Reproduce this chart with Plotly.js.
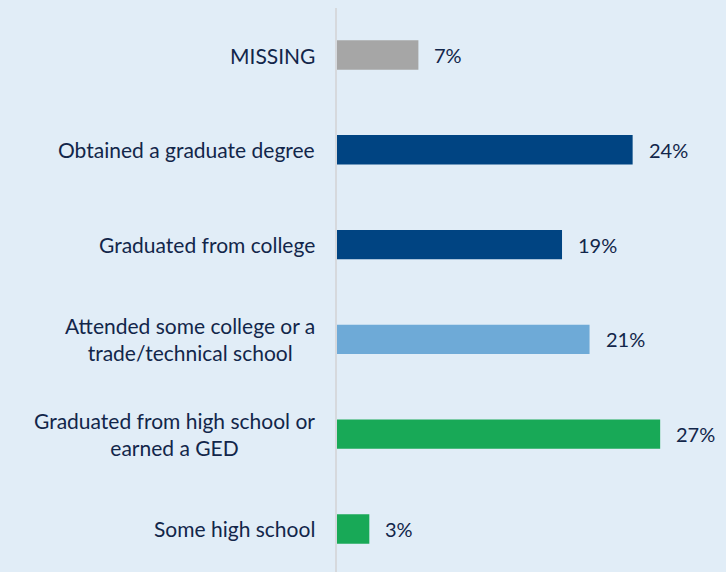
<!DOCTYPE html>
<html>
<head>
<meta charset="utf-8">
<script src="https://cdn.plot.ly/plotly-3.0.1.min.js"></script>
<style>
html,body{margin:0;padding:0;background:#e1edf7;}
#chart{width:726px;height:572px;}
</style>
</head>
<body>
<div id="chart"></div>
<script>
// Data (top to bottom)
var categories = ["MISSING", "Obtained a graduate degree", "Graduated from college",
  "Attended some college or a<br>trade/technical school",
  "Graduated from high school or<br>earned a GED", "Some high school"];
var values = [6.8, 24.7, 18.8, 21.1, 27.0, 2.7];
var valueLabels = ["7%", "24%", "19%", "21%", "27%", "3%"];
var barColors = ["#a6a6a6", "#004482", "#004482", "#6eaad7", "#18a957", "#18a957"];

var ids = categories.map(function(c, i){ return "c" + i; });
var fontFam = "Lato, 'Open Sans', sans-serif";
var txtColor = "#12264a";

var trace = {
  type: "bar",
  orientation: "h",
  y: ids,
  x: values,
  marker: {color: barColors},
  width: 0.31,
  hoverinfo: "skip"
};

var annotations = [];
ids.forEach(function(id, i){
  annotations.push({
    x: values[i], y: id, xref: "x", yref: "y",
    text: valueLabels[i], showarrow: false,
    xanchor: "left", yanchor: "middle", xshift: 14,
    font: {family: fontFam, size: 20, color: txtColor}
  });
  annotations.push({
    x: 0, y: id, xref: "paper", yref: "y",
    text: categories[i], showarrow: false,
    xanchor: "right", yanchor: "middle", xshift: -20, align: "center",
    font: {family: fontFam, size: 21, color: txtColor}
  });
});

var layout = {
  width: 726, height: 572,
  paper_bgcolor: "#e1edf7",
  plot_bgcolor: "#e1edf7",
  margin: {l: 337, r: 0, t: 8, b: 0},
  showlegend: false,
  xaxis: {
    range: [0, 32.5], showgrid: false, zeroline: false,
    showticklabels: false, showline: false, ticks: "", fixedrange: true
  },
  yaxis: {
    type: "category", categoryorder: "array", categoryarray: ids,
    range: [5.454, -0.496], showgrid: false, zeroline: false,
    showticklabels: false, ticks: "",
    showline: true, linecolor: "#d6d9dd", linewidth: 2, fixedrange: true
  },
  annotations: annotations
};

Plotly.newPlot("chart", [trace], layout, {displayModeBar: false, staticPlot: true});
</script>
</body>
</html>
